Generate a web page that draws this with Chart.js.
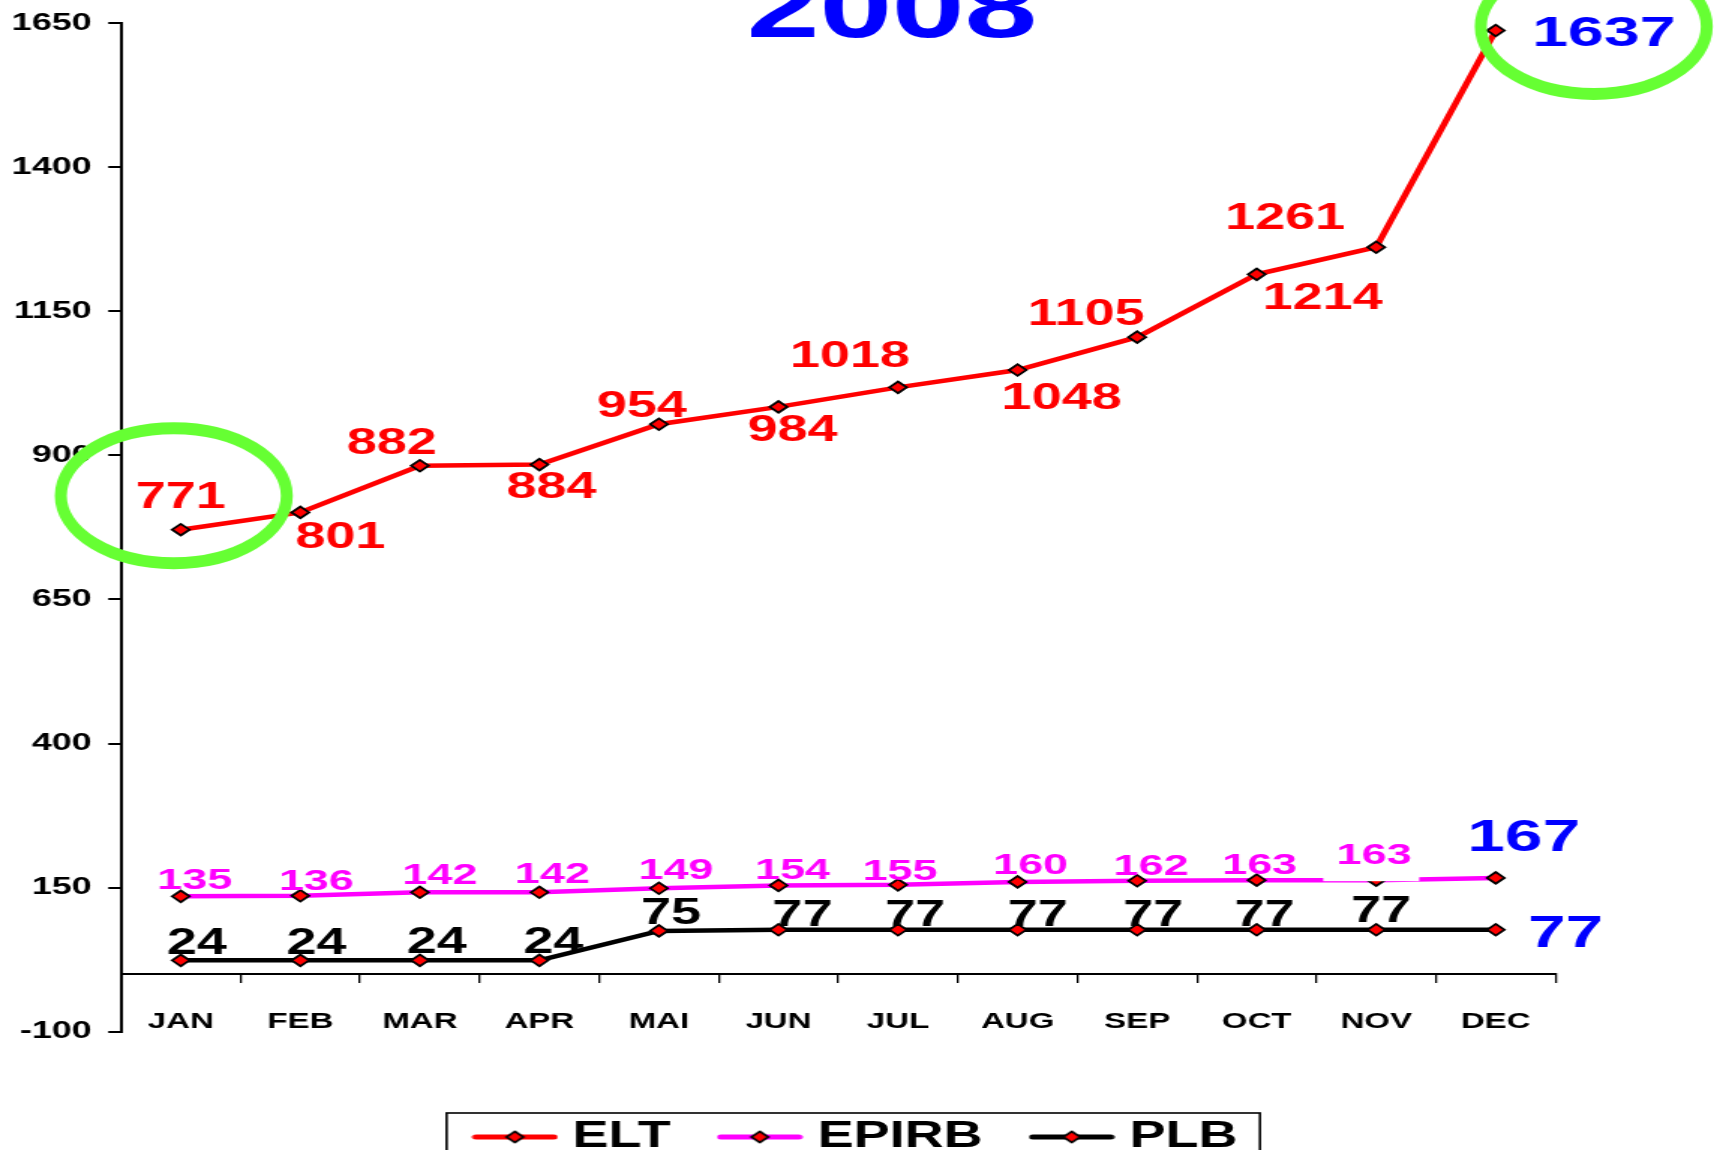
<!DOCTYPE html>
<html>
<head>
<meta charset="utf-8">
<title>ELT / EPIRB / PLB 2008</title>
<script src="https://cdn.jsdelivr.net/npm/chart.js@4.4.0/dist/chart.umd.min.js"></script>
<style>
  html, body { margin: 0; padding: 0; background: #fff; overflow: hidden; }
  #chart { display: block; }
</style>
</head>
<body>
<!-- the source slide is stretched sideways, so the canvas is drawn narrow and widened by css -->
<canvas id="chart" width="1143" height="1150" style="width:1714px;height:1150px"></canvas>
<script>
const S = 1714 / 1143;

const months = ['JAN', 'FEB', 'MAR', 'APR', 'MAI', 'JUN', 'JUL', 'AUG', 'SEP', 'OCT', 'NOV', 'DEC'];
const elt   = [771, 801, 882, 884, 954, 984, 1018, 1048, 1105, 1214, 1261, 1637];
const epirb = [135, 136, 142, 142, 149, 154, 155, 160, 162, 163, 163, 167];
const plb   = [24, 24, 24, 24, 75, 77, 77, 77, 77, 77, 77, 77];
const yTicks = [-100, 150, 400, 650, 900, 1150, 1400, 1650];
const titleText = '2008';

// where each value label sits relative to its point (screen px)
const eltShift = [[0, -35], [40, 23], [-28, -25], [12, 21], [-17, -20], [14, 21],
                  [-48, -33], [44, 26], [-51, -25], [66, 22], [-91, -31], [108, 0]];
const epirbShift = [[14, -18], [16, -16], [20, -19], [13, -20], [17, -20], [14, -17],
                    [2, -16], [13, -19], [14, -17], [3, -17], [-2, -27], [28, -43]];
const plbShift = [[16, -19], [16, -19], [17, -20], [14, -20], [12, -20], [24, -17],
                  [17, -17], [20, -17], [16, -17], [8, -17], [5, -21], [70, 1]];

const FAMILY = '"Liberation Sans", Arial, sans-serif';
const fontStr = size => `bold ${size}px ${FAMILY}`;

const labelStyle = [
    { color: '#ff0000', size: 36, lastSize: 43, shift: eltShift },
    { color: '#ff00ff', size: 30, lastSize: 45, shift: epirbShift },
    { color: '#000000', size: 36, lastSize: 45, shift: plbShift }
];

function legendSample(color) {
    const c = document.createElement('canvas');
    c.width = 58;
    c.height = 16;
    const g = c.getContext('2d');
    g.strokeStyle = color;
    g.lineWidth = 5;
    g.lineCap = 'round';
    g.beginPath();
    g.moveTo(3, 8);
    g.lineTo(55, 8);
    g.stroke();
    g.beginPath();
    g.moveTo(29, 2.4);
    g.lineTo(34.6, 8);
    g.lineTo(29, 13.6);
    g.lineTo(23.4, 8);
    g.closePath();
    g.fillStyle = '#ff0000';
    g.fill();
    g.lineWidth = 1.8;
    g.strokeStyle = '#000';
    g.stroke();
    return c;
}

const valueLabels = {
    id: 'valueLabels',
    afterDatasetsDraw(chart) {
        const ctx = chart.ctx;
        // the NOV label of EPIRB has a white box that hides the top of the line
        const nov = chart.getDatasetMeta(1).data[10];
        ctx.save();
        ctx.fillStyle = '#fff';
        ctx.fillRect(nov.x - 53 / S, nov.y - 43, 96 / S, 44);

        ctx.textAlign = 'center';
        ctx.textBaseline = 'alphabetic';
        chart.data.datasets.forEach((ds, i) => {
            const st = labelStyle[i];
            chart.getDatasetMeta(i).data.forEach((pt, j) => {
                const last = j === ds.data.length - 1;
                const size = last ? st.lastSize : st.size;
                const [dx, dy] = st.shift[j];
                ctx.font = fontStr(size);
                ctx.fillStyle = last ? '#0000ff' : st.color;
                ctx.fillText(String(ds.data[j]), pt.x + dx / S, pt.y + dy + 0.358 * size);
            });
        });
        ctx.restore();
    }
};

const decor = {
    id: 'decor',
    afterDraw(chart) {
        const ctx = chart.ctx;
        ctx.save();
        // title, cut off at the top like the slide
        ctx.font = fontStr(87);
        ctx.fillStyle = '#0000ff';
        ctx.textAlign = 'center';
        ctx.textBaseline = 'alphabetic';
        ctx.fillText(titleText, 892 / S, 37);

        // green rings round the first and last ELT values
        const pts = chart.getDatasetMeta(0).data;
        const rings = [[pts[0], -7, -34], [pts[pts.length - 1], 98, -4]];
        ctx.scale(1 / S, 1);
        ctx.strokeStyle = '#66ff33';
        ctx.lineWidth = 12;
        rings.forEach(([p, dx, dy]) => {
            ctx.beginPath();
            ctx.ellipse(p.x * S + dx, p.y + dy, 113, 67.5, 0, 0, Math.PI * 2);
            ctx.stroke();
        });
        ctx.restore();

        // frame round the legend
        const boxes = chart.legend.legendHitBoxes;
        if (boxes && boxes.length) {
            const a = boxes[0];
            const b = boxes[boxes.length - 1];
            const left = a.left - 25;
            const right = b.left + b.width + 15;
            const top = a.top - 6;
            ctx.save();
            ctx.strokeStyle = '#000';
            ctx.lineWidth = 1.6;
            ctx.strokeRect(left, top, right - left, chart.height - top + 10);
            ctx.restore();
        }
    }
};

const samples = ['#ff0000', '#ff00ff', '#000000'].map(legendSample);

const marker = {
    pointStyle: 'rectRot',
    pointRadius: 5.8,
    pointBackgroundColor: '#ff0000',
    pointBorderColor: '#000000',
    pointBorderWidth: 1.8,
    borderWidth: 4.5,
    tension: 0,
    fill: false
};

new Chart(document.getElementById('chart'), {
    type: 'line',
    data: {
        labels: months,
        datasets: [
            { label: 'ELT', data: elt, borderColor: '#ff0000', ...marker },
            { label: 'EPIRB', data: epirb, borderColor: '#ff00ff', ...marker },
            { label: 'PLB', data: plb, borderColor: '#000000', ...marker }
        ]
    },
    options: {
        responsive: false,
        devicePixelRatio: 1,
        animation: false,
        events: [],
        layout: { padding: { left: 5, right: 0, top: 20, bottom: -15 } },
        scales: {
            x: {
                type: 'category',
                position: { y: 0 },
                offset: true,
                grid: { offset: true, drawOnChartArea: false, drawTicks: true, tickLength: 8, color: '#000', lineWidth: 1.3 },
                border: { display: true, color: '#000', width: 2 },
                ticks: {
                    color: '#000',
                    font: { family: FAMILY, weight: 'bold', size: 22 },
                    padding: 26.5,
                    maxRotation: 0,
                    autoSkip: false
                }
            },
            y: {
                position: 'left',
                min: yTicks[0],
                max: yTicks[yTicks.length - 1],
                afterBuildTicks: scale => { scale.ticks = yTicks.map(v => ({ value: v })); },
                afterFit: scale => { scale.width = 75.7; },
                grid: { drawOnChartArea: false, drawTicks: true, tickLength: 8.5, color: '#000', lineWidth: 2 },
                border: { display: true, color: '#000', width: 2 },
                ticks: {
                    color: '#000',
                    font: { family: FAMILY, weight: 'bold', size: 24, lineHeight: 1 },
                    padding: 11,
                    callback: v => String(v)
                }
            },
            yRight: {
                position: 'right',
                afterFit: scale => { scale.width = 105.7; },
                grid: { display: false },
                border: { display: false },
                ticks: { display: false }
            }
        },
        plugins: {
            tooltip: { enabled: false },
            title: { display: false },
            legend: {
                position: 'bottom',
                title: { display: true, text: '', padding: { top: 47, bottom: 0 }, font: { size: 1 } },
                labels: {
                    usePointStyle: true,
                    pointStyleWidth: 41,
                    padding: 39,
                    color: '#000',
                    font: { family: FAMILY, weight: 'bold', size: 36 },
                    generateLabels: chart => chart.data.datasets.map((ds, i) => ({
                        text: ds.label,
                        pointStyle: samples[i],
                        fillStyle: ds.borderColor,
                        strokeStyle: ds.borderColor,
                        lineWidth: 0,
                        fontColor: '#000',
                        hidden: false,
                        datasetIndex: i
                    }))
                }
            }
        }
    },
    plugins: [valueLabels, decor]
});
</script>
</body>
</html>
